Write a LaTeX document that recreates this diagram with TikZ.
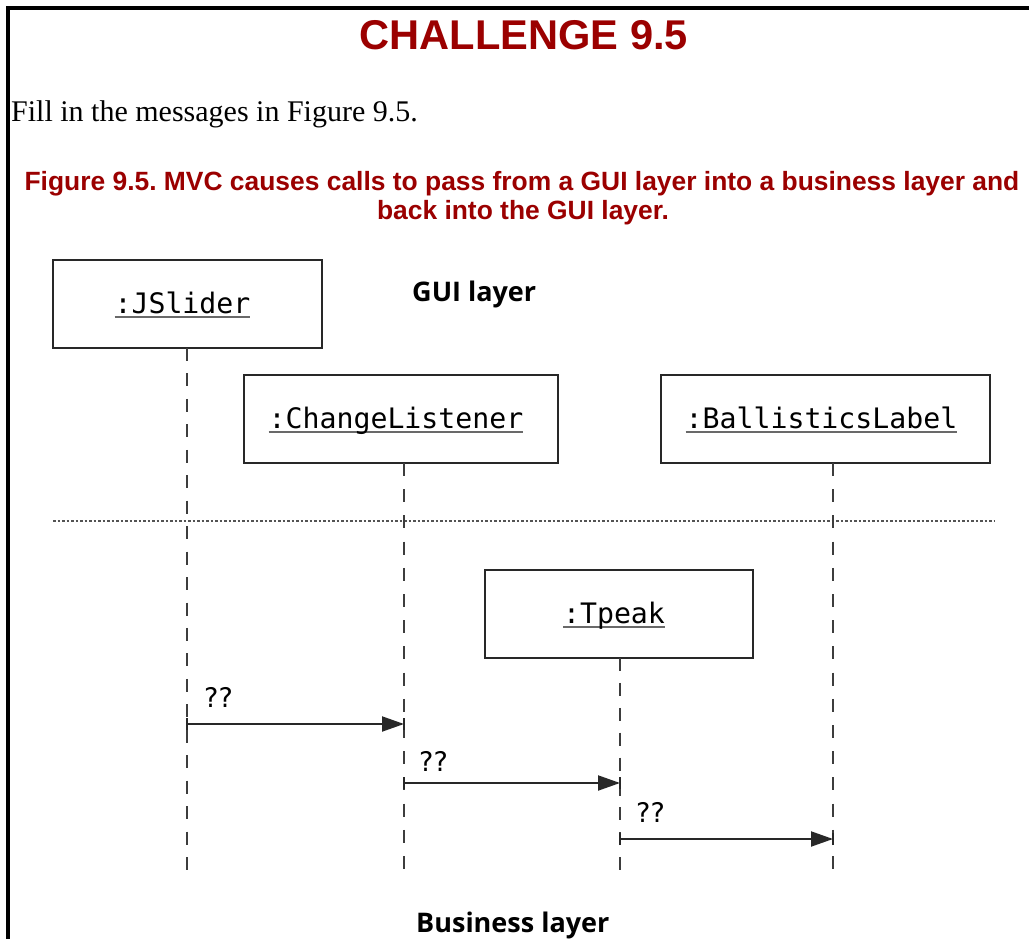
\documentclass[tikz,border=0pt]{standalone}
\usepackage{fontspec}
\setmainfont{Liberation Serif}
\newfontfamily\arialfont{Liberation Sans}
\newfontfamily\monofont{DejaVu Sans Mono}
\newfontfamily\uisans{Open Sans}
\newfontfamily\msgsans{DejaVu Sans}
\usetikzlibrary{arrows.meta}
\definecolor{capred}{RGB}{155,0,0}
\definecolor{boxline}{RGB}{40,40,40}
\newcommand{\ulbox}[1]{\setbox0\hbox{#1}\rlap{\color{boxline!70}\rule[-5pt]{\wd0}{1.6pt}}\box0}
\frenchspacing
\begin{document}
\begin{tikzpicture}[x=1pt,y=-1pt,
  objbox/.style={draw=boxline,line width=1.8pt,minimum height=88pt,inner sep=0pt,
    font=\monofont\fontsize{28.2}{30}\selectfont},
  objlbl/.style={inner sep=0pt,font=\monofont\fontsize{28.2}{30}\selectfont},
  lifeline/.style={draw=boxline!90,line width=1.8pt,dash pattern=on 13pt off #1pt},
  msg/.style={line width=2pt,draw=boxline,-{Triangle[length=22pt,width=15pt]}},
  tick/.style={line width=1.8pt,draw=boxline},
  msglbl/.style={font=\msgsans\fontsize{27}{30}\selectfont,anchor=base west,inner sep=0pt},
  layerlbl/.style={font=\uisans\bfseries\fontsize{27}{30}\selectfont,inner sep=0pt},
  redtxt/.style={text=capred,font=\arialfont\bfseries,inner sep=0pt}]
\useasboundingbox (0,0) rectangle (1029,939);
\fill[white] (0,0) rectangle (1029,939);
% frame
\draw[line width=4pt] (8,939) -- (8,8) -- (1029,8);
% headings
\node[redtxt,anchor=base,font=\arialfont\bfseries\fontsize{41.6}{50}\selectfont] (title) at (524,50) {CHALLENGE 9.5};
\node[anchor=base west,inner sep=0pt,font=\fontsize{30}{36}\selectfont] (intro) at (11,122) {Fill in the messages in Figure 9.5.};
\node[redtxt,anchor=base,font=\arialfont\bfseries\fontsize{26.4}{30}\selectfont] (cap1) at (522,191) {Figure 9.5. MVC causes calls to pass from a GUI layer into a business layer and};
\node[redtxt,anchor=base,font=\arialfont\bfseries\fontsize{26.4}{30}\selectfont] (cap2) at (523,220) {back into the GUI layer.};
% objects
\node[objbox,minimum width=269pt] (js) at (187.5,304) {};
\node[objbox,minimum width=314pt] (cl) at (401,419) {};
\node[objbox,minimum width=329pt] (bl) at (825.5,419) {};
\node[objbox,minimum width=268pt] (tp) at (619,614) {};
\node[objlbl,anchor=base] (jsl) at ([xshift=-5pt,yshift=-9pt]js.center) {\ulbox{:JSlider}};
\node[objlbl,anchor=base] (cll) at ([xshift=-5pt,yshift=-9pt]cl.center) {\ulbox{:ChangeListener}};
\node[objlbl,anchor=base] (bll) at ([xshift=-4pt,yshift=-9pt]bl.center) {\ulbox{:BallisticsLabel}};
\node[objlbl,anchor=base] (tpl) at ([xshift=-5pt,yshift=-9pt]tp.center) {\ulbox{:Tpeak}};
% layer labels
\node[layerlbl,anchor=base west] (gui) at (412,301) {GUI layer};
\node[layerlbl,anchor=base west] (bus) at (416,932) {Business layer};
% layer divider
\coordinate (divl) at (53,521);
\coordinate (divr) at (995,521);
\draw[line width=2pt,draw=boxline!80,dash pattern=on 2.5pt off 2pt] (divl) -- (divr);
% lifelines
\coordinate (jsT) at (187,348); \coordinate (jsB) at (187,870);
\coordinate (clT) at (404,463); \coordinate (clB) at (404,870);
\coordinate (blT) at (833,463); \coordinate (blB) at (833,870);
\coordinate (tpT) at (620,658); \coordinate (tpB) at (620,870);
\draw[lifeline=12.45] (jsT) -- (jsB);
\draw[lifeline=13.2] (clT) -- (clB);
\draw[lifeline=13.2] (blT) -- (blB);
\draw[lifeline=11.9] (tpT) -- (tpB);
% messages
\coordinate (m1a) at (187,724); \coordinate (m1b) at (404,724);
\coordinate (m2a) at (404,783); \coordinate (m2b) at (620,783);
\coordinate (m3a) at (620,839); \coordinate (m3b) at (833,839);
\draw[msg] (m1a) -- (m1b);
\draw[msg] (m2a) -- (m2b);
\draw[msg] (m3a) -- (m3b);
\foreach \c in {m1a,m1b,m2a,m2b,m3a,m3b}
  \draw[tick] ([yshift=-6pt]\c) -- ([yshift=6pt]\c);
\node[msglbl] (l1) at (204,707) {??};
\node[msglbl] (l2) at (419,771) {??};
\node[msglbl] (l3) at (636,822) {??};
\end{tikzpicture}
\end{document}
